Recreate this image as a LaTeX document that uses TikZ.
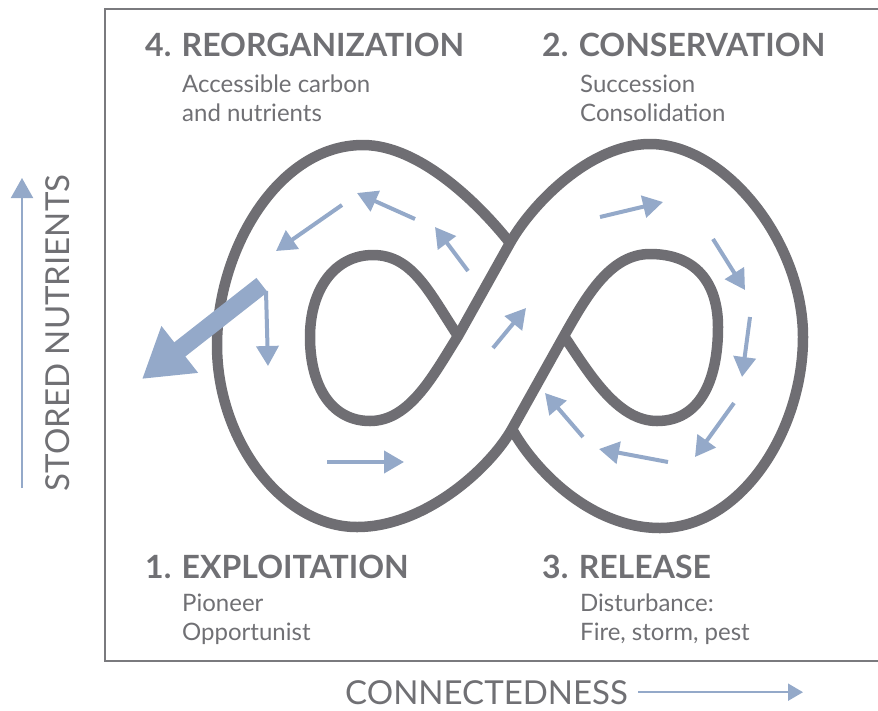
\documentclass[tikz,border=0pt]{standalone}
\usepackage{fontspec}
\setmainfont{Lato}
\usetikzlibrary{arrows.meta}

\definecolor{loopgray}{RGB}{111,110,115}
\definecolor{textgray}{RGB}{112,112,116}
\definecolor{framegray}{RGB}{122,122,126}
\definecolor{flowblue}{RGB}{148,169,201}

\begin{document}
\begin{tikzpicture}[x=1pt,y=-1pt,
    band/.style={draw=loopgray, line width=10.5pt},
    flow/.style={draw=flowblue, line width=4pt, -{Triangle[length=20pt,width=22pt]}},
    head/.style={text=textgray, inner sep=0pt, anchor=base west, font=\fontsize{32}{38}\selectfont\bfseries},
    sub/.style={text=textgray, inner sep=0pt, anchor=base west, font=\fontsize{24}{29}\selectfont},
    axis/.style={text=textgray, inner sep=0pt, font=\fontsize{33}{40}\selectfont}]
    \useasboundingbox (0,0) rectangle (878,710);
    \draw[framegray, line width=2.5pt] (878,9) -- (105,9) -- (105,661) -- (878,661);

    % the band: inner left loop, front strand, outer right lobe
    \draw[band] (458,336) .. controls (430,294) and (413,255) .. (373,255)
        .. controls (335,255) and (310,289) .. (310,337)
        .. controls (310,387) and (332,421) .. (370,421)
        .. controls (410,421) and (434,374) .. (458,336)
        -- (510,243)
        .. controls (532,204) and (590,144) .. (650,144)
        .. controls (725,144) and (803,242) .. (803,337)
        .. controls (803,432) and (740,528) .. (660,528)
        .. controls (590,528) and (534,469) .. (512,429);
    % inner right loop, front strand, outer left lobe
    \draw[band] (564,336) .. controls (589,373) and (617,421) .. (657,421)
        .. controls (699,421) and (718,382) .. (718,327)
        .. controls (718,282) and (695,254) .. (650,254)
        .. controls (610,254) and (586,297) .. (564,336)
        -- (512,429)
        .. controls (490,468) and (425,527) .. (357,527)
        .. controls (282,527) and (217,440) .. (217,345)
        .. controls (217,250) and (278,145) .. (363,145)
        .. controls (420,145) and (480,205) .. (510,243);

    % flows round the loop
    \draw[flow] (342,205) -- (276,251);
    \draw[flow] (415,219) -- (357,193);
    \draw[flow] (468,271) -- (435,227);
    \draw[flow] (266,291) -- (268,366);
    \draw[flow] (327,462) -- (404,462);
    \draw[flow] (493,348) -- (526,308);
    \draw[flow] (600,217) -- (663,202);
    \draw[flow] (713,239) -- (745,290);
    \draw[flow] (750,317) -- (742,377);
    \draw[flow] (734,403) -- (695,457);
    \draw[flow] (668,462) -- (599,449);
    \draw[flow] (583,437) -- (545,393);
    \draw[flowblue, line width=18pt, -{Triangle[length=48pt,width=56pt]}] (262,285) -- (142,379);

    % phase labels
    \node[head] (reorg) at (145,56) {4. REORGANIZATION};
    \node[sub] (reorgA) at (182,92) {Accessible carbon};
    \node[sub] (reorgB) at (182,121) {and nutrients};
    \node[head] (cons) at (542,56) {2. CONSERVATION};
    \node[sub] (consA) at (580,92) {Succession};
    \node[sub] (consB) at (580,121) {Consolidation};
    \node[head] (expl) at (145,578) {1. EXPLOITATION};
    \node[sub] (explA) at (182,611) {Pioneer};
    \node[sub] (explB) at (182,640) {Opportunist};
    \node[head] (rel) at (542,578) {3. RELEASE};
    \node[sub] (relA) at (580,611) {Disturbance:};
    \node[sub] (relB) at (580,640) {Fire, storm, pest};

    % axes
    \node[axis, rotate=90] (ylabel) at (58,333) {STORED NUTRIENTS};
    \coordinate (ybot) at (22,488);
    \coordinate (ytop) at (22,178);
    \draw[flowblue, line width=2pt, -{Triangle[length=20pt,width=22pt]}] (ybot) -- (ytop);
    \node[axis, anchor=base west] (xlabel) at (345,704) {CONNECTEDNESS};
    \coordinate (xend) at (803,694);
    \draw[flowblue, line width=2pt, -{Triangle[length=15pt,width=17pt]}] ([xshift=10pt]xlabel.east) -- (xend |- xlabel.east);
\end{tikzpicture}
\end{document}
